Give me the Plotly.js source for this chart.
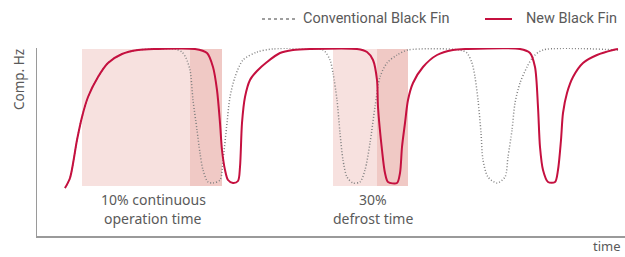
<!DOCTYPE html>
<html>
<head>
<meta charset="utf-8">
<script src="https://cdn.plot.ly/plotly-3.0.1.min.js"></script>
<style>html,body{margin:0;padding:0;background:#fff;}#chart{width:625px;height:257px;}</style>
</head>
<body>
<div id="chart"></div>
<script>
// Time (arbitrary units) and compressor frequency (arbitrary units)
const newTime = [65,70,77,82,88,98,108,122,138,155,195,207,213,217,220,222,225,228,233,238,240,242,245,250,257,267,280,293,310,357,367,373,377,378,382,385,388,397,400,402,405,408,413,423,437,453,467,520,530,535,538,540,543,548,555,558,561,563,567,573,583,597,613,618];
const newHz   = [48,58,96,119,139,159,173,182,186,187,187,183,169,146,113,86,66,56,53,55,69,113,139,156,165,174,183,186,187,187,184,176,156,129,86,63,54,53,63,89,113,136,153,169,181,186,187,187,183,169,129,89,66,54,54,66,96,123,143,159,173,181,186,187];

const convTime = [65,70,77,82,88,98,108,122,138,155,175,182,186,190,193,197,200,203,208,213,220,223,227,230,235,243,257,273,323,330,333,337,340,343,347,353,360,365,370,375,380,387,397,408,460,467,472,475,478,481,483,488,497,505,508,512,515,520,527,533,543,618];
const convHz   = [48,58,96,119,139,159,173,182,186,187,187,184,178,166,136,106,83,66,54,53,56,76,113,139,159,176,184,187,186,176,163,136,103,76,59,53,54,66,93,129,159,173,181,186,186,183,173,159,136,103,76,59,53,59,79,106,133,153,169,179,186,186];

// Highlighted phases: [start, split, end] on the time axis
const continuousPhase = [82, 190, 222];
const defrostPhase = [333, 377, 408];
const phaseHz = [50, 187];

const seriesNames = ['Conventional Black Fin', 'New Black Fin'];
const phaseLabels = [['10% continuous', 'operation time'], ['30%', 'defrost time']];

const RED = '#c5103f';
const GRAY = '#808080';
const LIGHT = '#f7e1df';
const DARK = '#f0c9c5';
const TXT = '#5a5a5a';
const FONT = '"Noto Sans", Roboto, sans-serif';

// plot area in pixels: x 37..625, y 48..236
const px = v => (v - 37) / 588;
const py = v => (236 - v) / 188;

const shapes = [];
[continuousPhase, defrostPhase].forEach(p => {
  shapes.push({type:'rect', layer:'below', xref:'x', yref:'y', x0:p[0], x1:p[1], y0:phaseHz[0], y1:phaseHz[1], fillcolor:LIGHT, line:{width:0}});
  shapes.push({type:'rect', layer:'below', xref:'x', yref:'y', x0:p[1], x1:p[2], y0:phaseHz[0], y1:phaseHz[1], fillcolor:DARK, line:{width:0}});
});
// legend samples
shapes.push({type:'line', xref:'paper', yref:'paper', x0:px(262), x1:px(295), y0:py(19), y1:py(19), line:{color:GRAY, width:1.5, dash:'dot'}});
shapes.push({type:'line', xref:'paper', yref:'paper', x0:px(485), x1:px(512), y0:py(19), y1:py(19), line:{color:RED, width:2}});

const lab = (x, y, t, size) => ({x:px(x), y:py(y), xref:'paper', yref:'paper', text:t, showarrow:false, xanchor:'center', yanchor:'middle', font:{family:FONT, size:size, color:TXT}});

const annotations = [
  {x:px(301), y:py(19), xref:'paper', yref:'paper', text:seriesNames[0], showarrow:false, xanchor:'left', yanchor:'middle', font:{family:'Roboto, sans-serif', size:14.5, color:TXT}},
  {x:px(524), y:py(19), xref:'paper', yref:'paper', text:seriesNames[1], showarrow:false, xanchor:'left', yanchor:'middle', font:{family:'Roboto, sans-serif', size:14.5, color:TXT}},
  lab(153, 199, phaseLabels[0][0], 14),
  lab(153, 218, phaseLabels[0][1], 14),
  lab(373, 199, phaseLabels[1][0], 14),
  lab(373, 218, phaseLabels[1][1], 14),
  Object.assign(lab(19, 80, 'Comp. Hz', 13.5), {textangle:-90}),
  Object.assign(lab(623, 246, 'time', 13), {xanchor:'right'})
];

const traces = [
  {x:convTime, y:convHz, name:seriesNames[0], type:'scatter', mode:'lines', line:{color:GRAY, width:1.5, dash:'1px,2px', shape:'spline', smoothing:0.8}, hoverinfo:'skip'},
  {x:newTime, y:newHz, name:seriesNames[1], type:'scatter', mode:'lines', line:{color:RED, width:2, shape:'spline', smoothing:0.8}, hoverinfo:'skip'}
];

const layout = {
  width:625, height:257,
  margin:{l:37, r:0, t:48, b:21, pad:0},
  paper_bgcolor:'#fff', plot_bgcolor:'#fff',
  showlegend:false,
  xaxis:{range:[37,625], showgrid:false, zeroline:false, showticklabels:false, ticks:'', showline:true, linecolor:'#9a9a9a', linewidth:1.5, fixedrange:true},
  yaxis:{range:[0,188], showgrid:false, zeroline:false, showticklabels:false, ticks:'', showline:true, linecolor:'#9a9a9a', linewidth:1.5, fixedrange:true},
  shapes:shapes,
  annotations:annotations
};

Plotly.newPlot('chart', traces, layout, {displayModeBar:false, staticPlot:true});
</script>
</body>
</html>
